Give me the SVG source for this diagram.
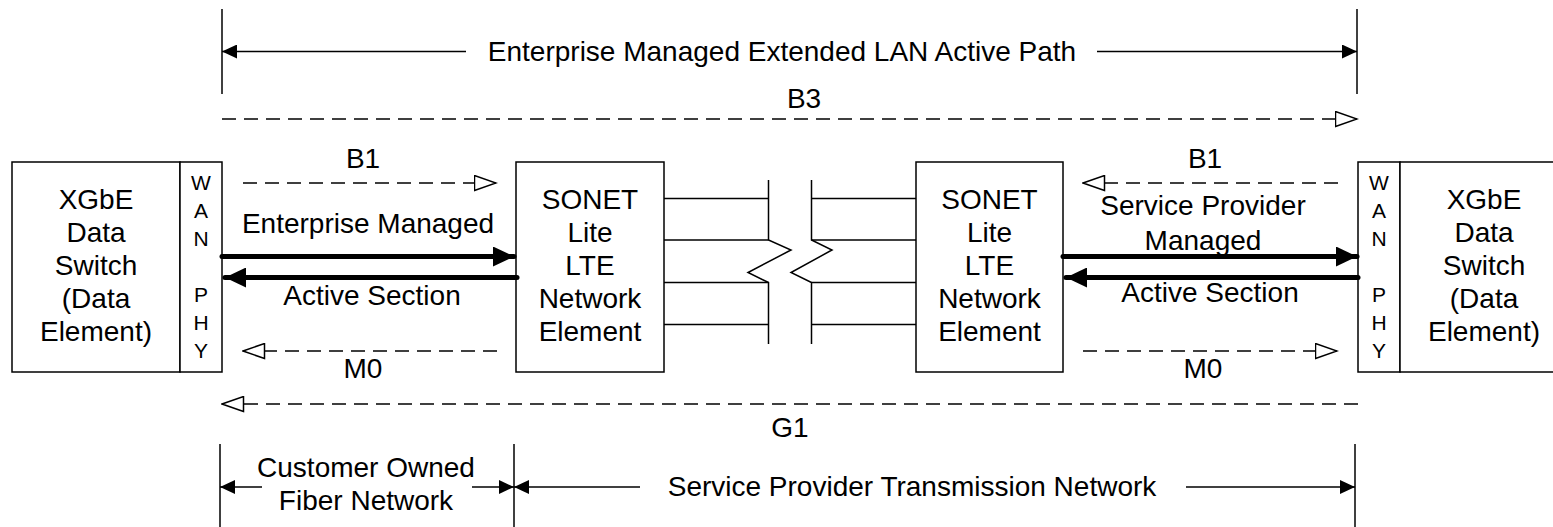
<svg xmlns="http://www.w3.org/2000/svg" width="1553" height="527" viewBox="0 0 1553 527">
<style>
.box{fill:#fff;stroke:#000;stroke-width:1.5}
.t{font-family:"Liberation Sans",Arial,sans-serif;font-size:28px;fill:#000;text-anchor:middle}
.w{font-family:"Liberation Sans",Arial,sans-serif;font-size:21px;fill:#000;text-anchor:middle}
.ln{stroke:#000;stroke-width:1.5;fill:none}
.dash{stroke:#000;stroke-width:1.5;fill:none;stroke-dasharray:14 8}
.thick{stroke:#000;stroke-width:5;fill:none;stroke-linecap:round}
</style>
<defs>
<marker id="arr" markerUnits="userSpaceOnUse" markerWidth="16" markerHeight="14" refX="15" refY="7" orient="auto" viewBox="0 0 16 14">
<path d="M0,0 L15,7 L0,14 z" fill="#000" stroke="none"/>
</marker>
<marker id="hollow" markerUnits="userSpaceOnUse" markerWidth="24" markerHeight="17" refX="22.5" refY="8.5" orient="auto" viewBox="0 0 24 17">
<path d="M1,1 L22.5,8.5 L1,16 z" fill="#fff" stroke="#000" stroke-width="1.5" stroke-dasharray="none"/>
</marker>
<marker id="big" markerUnits="userSpaceOnUse" markerWidth="22" markerHeight="20" refX="21" refY="10" orient="auto" viewBox="0 0 22 20">
<path d="M0,0 L21,10 L0,20 z" fill="#000" stroke="none"/>
</marker>
</defs>
<rect width="1553" height="527" fill="#fff"/>

<g id="xgbe-left">
<rect class="box" x="12" y="162" width="168" height="210"/>
<text class="t" x="96" y="209">XGbE</text>
<text class="t" x="96" y="242">Data</text>
<text class="t" x="96" y="275">Switch</text>
<text class="t" x="96" y="308">(Data</text>
<text class="t" x="96" y="341">Element)</text>
</g>
<g id="wanphy-left">
<rect class="box" x="180" y="162" width="42" height="210"/>
<text class="w" x="201" y="190">W</text>
<text class="w" x="201" y="218">A</text>
<text class="w" x="201" y="246">N</text>
<text class="w" x="201" y="302">P</text>
<text class="w" x="201" y="330">H</text>
<text class="w" x="201" y="358">Y</text>
</g>
<g id="sonet-left">
<rect class="box" x="516" y="162" width="148" height="210"/>
<text class="t" x="590" y="209">SONET</text>
<text class="t" x="590" y="242">Lite</text>
<text class="t" x="590" y="275">LTE</text>
<text class="t" x="590" y="308">Network</text>
<text class="t" x="590" y="341">Element</text>
</g>
<g id="sonet-right">
<rect class="box" x="916" y="162" width="147" height="210"/>
<text class="t" x="989.5" y="209">SONET</text>
<text class="t" x="989.5" y="242">Lite</text>
<text class="t" x="989.5" y="275">LTE</text>
<text class="t" x="989.5" y="308">Network</text>
<text class="t" x="989.5" y="341">Element</text>
</g>
<g id="wanphy-right">
<rect class="box" x="1358" y="162" width="42" height="210"/>
<text class="w" x="1379" y="190">W</text>
<text class="w" x="1379" y="218">A</text>
<text class="w" x="1379" y="246">N</text>
<text class="w" x="1379" y="302">P</text>
<text class="w" x="1379" y="330">H</text>
<text class="w" x="1379" y="358">Y</text>
</g>
<g id="xgbe-right">
<rect class="box" x="1400" y="162" width="168" height="210"/>
<text class="t" x="1484" y="209">XGbE</text>
<text class="t" x="1484" y="242">Data</text>
<text class="t" x="1484" y="275">Switch</text>
<text class="t" x="1484" y="308">(Data</text>
<text class="t" x="1484" y="341">Element)</text>
</g>

<g id="connectors">
<!-- top span -->
<line class="ln" x1="222" y1="9" x2="222" y2="94"/>
<line class="ln" x1="1357" y1="9" x2="1357" y2="94"/>
<line class="ln" x1="466" y1="51.5" x2="222" y2="51.5" marker-end="url(#arr)"/>
<line class="ln" x1="1097" y1="51.5" x2="1357" y2="51.5" marker-end="url(#arr)"/>
<text class="t" x="782" y="61">Enterprise Managed Extended LAN Active Path</text>
<text class="t" x="804" y="108">B3</text>
<line class="dash" x1="222" y1="119" x2="1357" y2="119" marker-end="url(#hollow)"/>

<!-- left section -->
<text class="t" x="363" y="168">B1</text>
<line class="dash" x1="243" y1="183" x2="496" y2="183" marker-end="url(#hollow)"/>
<text class="t" x="368" y="233">Enterprise Managed</text>
<line class="thick" x1="222" y1="256.5" x2="514" y2="256.5" marker-end="url(#big)"/>
<line class="thick" x1="517" y1="277.5" x2="225" y2="277.5" marker-end="url(#big)"/>
<text class="t" x="372" y="305">Active Section</text>
<line class="dash" x1="497" y1="351" x2="243" y2="351" marker-end="url(#hollow)"/>
<text class="t" x="363" y="378">M0</text>

<!-- middle break -->
<line class="ln" x1="664" y1="198.5" x2="768.5" y2="198.5"/>
<line class="ln" x1="664" y1="240" x2="768.5" y2="240"/>
<line class="ln" x1="664" y1="282.5" x2="768.5" y2="282.5"/>
<line class="ln" x1="664" y1="324.5" x2="768.5" y2="324.5"/>
<line class="ln" x1="811.5" y1="198.5" x2="916" y2="198.5"/>
<line class="ln" x1="811.5" y1="240" x2="916" y2="240"/>
<line class="ln" x1="811.5" y1="282.5" x2="916" y2="282.5"/>
<line class="ln" x1="811.5" y1="324.5" x2="916" y2="324.5"/>
<polyline class="ln" points="768.5,180 768.5,240 791,250 748,272.5 768.5,282.5 768.5,344"/>
<polyline class="ln" points="811.5,180 811.5,240 832,250 791,272.5 811.5,282.5 811.5,344"/>

<!-- right section -->
<text class="t" x="1205" y="168">B1</text>
<line class="dash" x1="1338" y1="183" x2="1083" y2="183" marker-end="url(#hollow)"/>
<text class="t" x="1203" y="215">Service Provider</text>
<text class="t" x="1203" y="250">Managed</text>
<line class="thick" x1="1063" y1="256.5" x2="1357" y2="256.5" marker-end="url(#big)"/>
<line class="thick" x1="1358" y1="277.5" x2="1066" y2="277.5" marker-end="url(#big)"/>
<text class="t" x="1210" y="302">Active Section</text>
<line class="dash" x1="1083" y1="351" x2="1337" y2="351" marker-end="url(#hollow)"/>
<text class="t" x="1203" y="378">M0</text>

<!-- G1 -->
<line class="dash" x1="1358" y1="404" x2="222" y2="404" marker-end="url(#hollow)"/>
<text class="t" x="790" y="437">G1</text>

<!-- bottom spans -->
<line class="ln" x1="220" y1="444" x2="220" y2="527"/>
<line class="ln" x1="514" y1="444" x2="514" y2="527"/>
<line class="ln" x1="1355" y1="444" x2="1355" y2="527"/>
<line class="ln" x1="262" y1="487" x2="220" y2="487" marker-end="url(#arr)"/>
<line class="ln" x1="472" y1="487" x2="514" y2="487" marker-end="url(#arr)"/>
<text class="t" x="366" y="477">Customer Owned</text>
<text class="t" x="366" y="510">Fiber Network</text>
<line class="ln" x1="640" y1="487" x2="514" y2="487" marker-end="url(#arr)"/>
<line class="ln" x1="1186" y1="487" x2="1355" y2="487" marker-end="url(#arr)"/>
<text class="t" x="912" y="496">Service Provider Transmission Network</text>
</g>
</svg>
